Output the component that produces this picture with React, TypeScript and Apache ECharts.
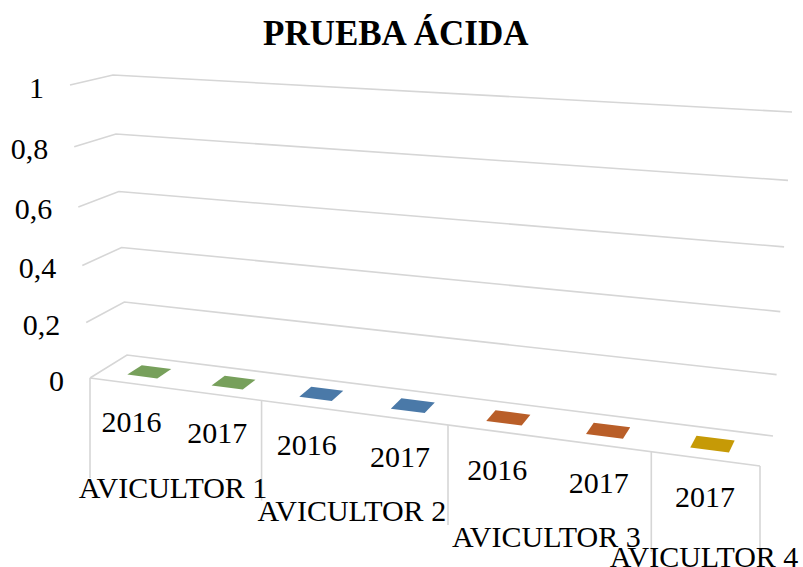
import React, { useEffect, useRef } from "react";
import * as echarts from "echarts";

// ---- data ----
const title = "PRUEBA ÁCIDA";
const categories = ["2016", "2017", "2016", "2017", "2016", "2017", "2017"];
const values = [0, 0, 0, 0, 0, 0, 0];
const groups = ["AVICULTOR 1", "AVICULTOR 2", "AVICULTOR 3", "AVICULTOR 4"];
const groupSizes = [2, 2, 2, 1];
const groupColors = ["#77a05b", "#4a79a8", "#b95e28", "#c69a06"];
const yTicks = [0, 0.2, 0.4, 0.6, 0.8, 1];
const yTickLabels = ["0", "0,2", "0,4", "0,6", "0,8", "1"];

// ---- layout (perspective box) ----
const BOX: Record<string, [number, number]> = {
  P000: [90, 378],
  P100: [760, 466],
  P001: [127, 355],
  P101: [773, 436],
  P010: [70, 85],
  P110: [752, 150],
  P011: [113, 75],
  P111: [792, 112],
};
const K_T = -0.1394;
const K_V = -0.065;
const FONT = "'Liberation Serif', 'Times New Roman', serif";
const GRID_COLOR = "#d6d6d6";

function persp(x: number, k: number) {
  return (x * (1 + k)) / (1 + k * x);
}
function lerp(a: [number, number], b: [number, number], f: number): [number, number] {
  return [a[0] + (b[0] - a[0]) * f, a[1] + (b[1] - a[1]) * f];
}
function project(t: number, s: number, w: number): [number, number] {
  const b0 = lerp(BOX.P000, BOX.P100, t);
  const b1 = lerp(BOX.P001, BOX.P101, t);
  const t0 = lerp(BOX.P010, BOX.P110, t);
  const t1 = lerp(BOX.P011, BOX.P111, t);
  const bottom = lerp(b0, b1, w);
  const top = lerp(t0, t1, w);
  return lerp(bottom, top, s);
}
function warp(rect: any, p: number[], w: number): [number, number] {
  const tl = (p[0] - rect.x) / rect.width;
  const vl = (rect.y + rect.height - p[1]) / rect.height;
  return project(persp(tl, K_T), persp(vl, K_V), w);
}

const barGroupIndex: number[] = [];
groupSizes.forEach((n, g) => {
  for (let i = 0; i < n; i++) barGroupIndex.push(g);
});
const groupStarts: number[] = [];
groupSizes.reduce((acc, n) => {
  groupStarts.push(acc);
  return acc + n;
}, 0);
const dividers = [...groupStarts, categories.length];

export default function App() {
  const ref = useRef<HTMLDivElement>(null);
  useEffect(() => {
    document.body.style.margin = "0";
    const chart = echarts.init(ref.current!, undefined, { renderer: "svg" });
    const nCat = categories.length;
    const textStyle = (text: string, x: number, y: number, align = "center") => ({
      type: "text",
      style: {
        text,
        x,
        y,
        align,
        verticalAlign: "middle",
        fontSize: 30,
        lineHeight: 22,
        fontFamily: FONT,
        fill: "#000",
      },
    });
    chart.setOption({
      animation: false,
      title: {
        text: title,
        left: 258,
        top: 11,
        textStyle: { fontFamily: FONT, fontSize: 35, fontWeight: "bold", color: "#000" },
      },
      grid: { left: 90, top: 85, width: 670, height: 293 },
      xAxis: { type: "value", min: 0, max: nCat, show: false },
      yAxis: { type: "value", min: 0, max: 1, show: false },
      series: [
        {
          type: "custom",
          name: "grid",
          clip: false,
          silent: true,
          data: yTicks.map((v) => [0, v]),
          renderItem: (params: any, api: any) => {
            const rect = params.coordSys;
            const v = api.value(1);
            const a = api.coord([0, v]);
            const b = api.coord([nCat, v]);
            const fl = warp(rect, a, 0);
            const bl = warp(rect, a, 1);
            const br = warp(rect, b, 1);
            return {
              type: "group",
              children: [
                {
                  type: "polyline",
                  shape: { points: [fl, bl, br] },
                  style: { stroke: GRID_COLOR, lineWidth: 1.6, fill: "none" },
                },
                textStyle(yTickLabels[params.dataIndex], fl[0] - 26, fl[1] + 2, "right"),
              ],
            };
          },
        },
        {
          type: "custom",
          name: "frontEdge",
          clip: false,
          silent: true,
          data: [[0, 0]],
          renderItem: (params: any, api: any) => {
            const rect = params.coordSys;
            const a = warp(rect, api.coord([0, 0]), 0);
            const b = warp(rect, api.coord([nCat, 0]), 0);
            return {
              type: "line",
              shape: { x1: a[0], y1: a[1], x2: b[0], y2: b[1] },
              style: { stroke: GRID_COLOR, lineWidth: 1.6 },
            };
          },
        },
        {
          type: "custom",
          name: "dividers",
          clip: false,
          silent: true,
          data: dividers.map((u) => [u, 0]),
          renderItem: (params: any, api: any) => {
            const rect = params.coordSys;
            const p = warp(rect, api.coord([api.value(0), 0]), 0);
            return {
              type: "line",
              shape: { x1: p[0], y1: p[1], x2: p[0], y2: p[1] + 100 },
              style: { stroke: GRID_COLOR, lineWidth: 1.6 },
            };
          },
        },
        {
          type: "custom",
          name: "bars",
          clip: false,
          data: values.map((v, i) => ({
            value: [i + 0.5, v],
            itemStyle: { color: groupColors[barGroupIndex[i]] },
          })),
          renderItem: (params: any, api: any) => {
            const rect = params.coordSys;
            const u = api.value(0);
            const val = api.value(1);
            const color = api.visual("color");
            const hw = 0.18;
            const w0 = 0.3;
            const w1 = 0.7;
            const c1 = api.coord([u - hw, val]);
            const c2 = api.coord([u + hw, val]);
            const b1 = api.coord([u - hw, 0]);
            const b2 = api.coord([u + hw, 0]);
            const children: any[] = [];
            if (val > 0) {
              children.push({
                type: "polygon",
                shape: { points: [warp(rect, b1, w0), warp(rect, b2, w0), warp(rect, c2, w0), warp(rect, c1, w0)] },
                style: { fill: color },
              });
            }
            children.push({
              type: "polygon",
              shape: { points: [warp(rect, c1, w0), warp(rect, c2, w0), warp(rect, c2, w1), warp(rect, c1, w1)] },
              style: { fill: color },
            });
            return { type: "group", children };
          },
        },
        {
          type: "custom",
          name: "catLabels",
          clip: false,
          silent: true,
          data: categories.map((c, i) => [i + 0.5, 0]),
          renderItem: (params: any, api: any) => {
            const rect = params.coordSys;
            const p = warp(rect, api.coord([api.value(0), 0]), 0);
            return textStyle(categories[params.dataIndex], p[0], p[1] + 38);
          },
        },
        {
          type: "custom",
          name: "groupLabels",
          clip: false,
          silent: true,
          data: groups.map((g, i) => [groupStarts[i] + groupSizes[i] / 2, 0]),
          renderItem: (params: any, api: any) => {
            const rect = params.coordSys;
            const p = warp(rect, api.coord([api.value(0), 0]), 0);
            return textStyle(groups[params.dataIndex], p[0] - 1, p[1] + 98);
          },
        },
      ],
    });
    return () => chart.dispose();
  }, []);
  return <div ref={ref} style={{ width: 803, height: 567 }} />;
}
